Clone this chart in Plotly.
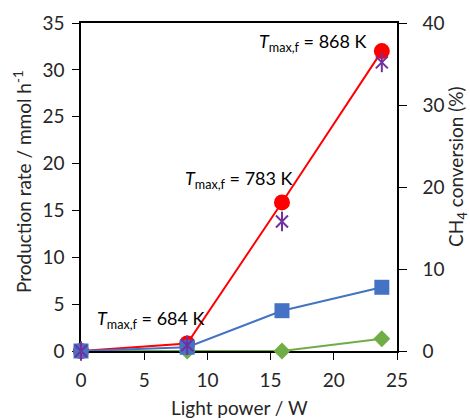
import plotly.graph_objects as go

power = [0, 8.4, 15.9, 23.8]
rate_red = [0, 0.8, 15.85, 32.0]      # left axis
rate_blue = [0, 0.4, 4.3, 6.8]        # left axis
rate_green = [0, 0, 0, 1.3]           # left axis
ch4_conv = [0, 0.7, 15.8, 35.2]       # right axis (%)
ann_x = [1.1, 8.1, 13.9]
ann_y = [3.4, 18.3, 32.9]
ann_text = ["684 K", "783 K", "868 K"]

FONT = "Lato"
TXT = "#262626"
PURPLE = "#7030A0"

fig = go.Figure()
fig.add_trace(go.Scatter(x=power, y=rate_green, mode="lines+markers",
                         line=dict(color="#70AD47", width=2),
                         marker=dict(symbol="diamond", size=13, color="#70AD47"),
                         cliponaxis=False, showlegend=False))
fig.add_trace(go.Scatter(x=power, y=rate_red, mode="lines+markers",
                         line=dict(color="#FF0000", width=2),
                         marker=dict(symbol="circle", size=16, color="#FF0000"),
                         cliponaxis=False, showlegend=False))
fig.add_trace(go.Scatter(x=power, y=rate_blue, mode="lines+markers",
                         line=dict(color="#4472C4", width=2),
                         marker=dict(symbol="square", size=15, color="#4472C4"),
                         cliponaxis=False, showlegend=False))
fig.add_trace(go.Scatter(x=power, y=ch4_conv, mode="markers", yaxis="y2",
                         marker=dict(symbol="x-thin-open", size=12, color=PURPLE,
                                     line=dict(color=PURPLE, width=2)),
                         cliponaxis=False, showlegend=False))
fig.add_trace(go.Scatter(x=power, y=ch4_conv, mode="markers", yaxis="y2",
                         marker=dict(symbol="line-ns-open", size=14, color=PURPLE,
                                     line=dict(color=PURPLE, width=2)),
                         cliponaxis=False, showlegend=False))

for x, y, t in zip(ann_x, ann_y, ann_text):
    fig.add_annotation(x=x, y=y, xref="x", yref="y", xanchor="left", yanchor="middle",
                       text="<i>T</i><sub>max,f</sub> = " + t, showarrow=False,
                       font=dict(family=FONT, size=18, color="black"))

fig.add_annotation(x=-0.187, y=0.518, xref="paper", yref="paper", textangle=-90,
                   xanchor="center", yanchor="middle",
                   text="Production rate / mmol h<sup>-1</sup>", showarrow=False,
                   font=dict(family=FONT, size=19, color=TXT))
fig.add_annotation(x=1.19, y=0.561, xref="paper", yref="paper", textangle=-90,
                   xanchor="center", yanchor="middle",
                   text="CH<sub>4</sub> conversion (%)", showarrow=False,
                   font=dict(family=FONT, size=19, color=TXT))
fig.add_annotation(x=0.5, y=-0.172, xref="paper", yref="paper",
                   xanchor="center", yanchor="middle",
                   text="Light power / W", showarrow=False,
                   font=dict(family=FONT, size=19, color=TXT))

fig.update_layout(
    width=470, height=420,
    margin=dict(l=81, r=73, t=23, b=69),
    plot_bgcolor="white", paper_bgcolor="white",
    font=dict(family=FONT, size=19, color=TXT),
    xaxis=dict(range=[0, 25], dtick=5, showgrid=False, zeroline=False,
               showline=True, linecolor="black", linewidth=1.5, mirror=True,
               ticks="outside", ticklen=7, tickcolor="black", layer="below traces",
               ticklabelstandoff=4),
    yaxis=dict(range=[0, 35], dtick=5, showgrid=False, zeroline=False,
               showline=True, linecolor="black", linewidth=1.5, mirror=True,
               ticks="outside", ticklen=7, tickcolor="black", layer="below traces",
               ticklabelstandoff=4),
    yaxis2=dict(range=[0, 40], dtick=10, overlaying="y", side="right",
                showgrid=False, zeroline=False, showline=True, linecolor="black",
                linewidth=1.5, ticks="outside", ticklen=8, tickcolor="black",
                layer="below traces", ticklabelstandoff=12),
)

fig.write_html("out.html")
